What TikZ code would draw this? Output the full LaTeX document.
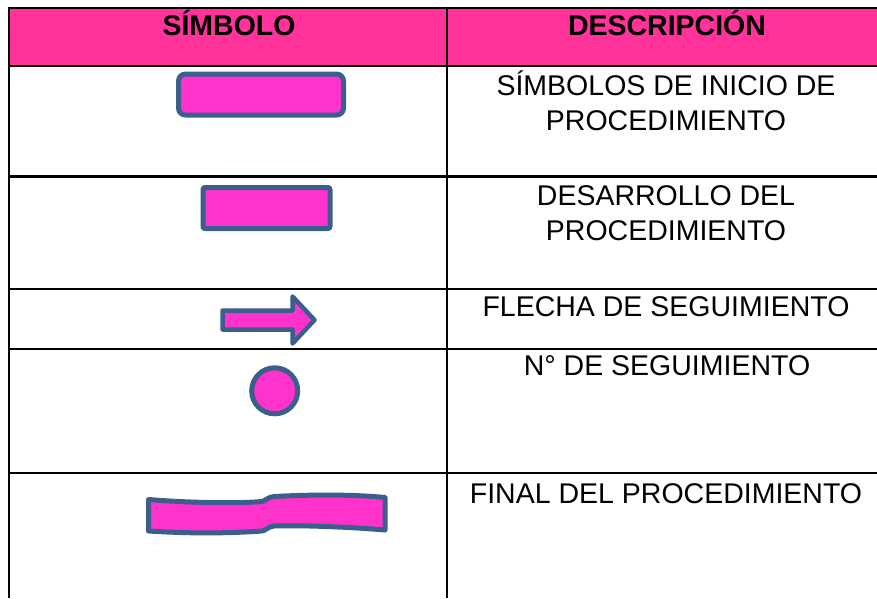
\documentclass[tikz,border=0pt]{standalone}
\usepackage{fontspec}
\setmainfont{Liberation Sans}
\definecolor{hdr}{HTML}{FF3399}
\definecolor{shfill}{HTML}{FF33CC}
\definecolor{shline}{HTML}{3B5E8C}
\tikzset{
  grid/.style={line width=2.5pt, draw=black},
  sym/.style={fill=shfill, draw=shline, line width=5pt, line join=round},
  hdrtxt/.style={anchor=base, inner sep=0pt, font=\fontsize{28.5}{34}\selectfont\bfseries},
  desc/.style={anchor=base, inner sep=0pt, align=center, font=\fontsize{28.5}{35}\selectfont},
}
\begin{document}
\begin{tikzpicture}[x=1pt,y=-1pt]
\useasboundingbox (0,0) rectangle (877,598);
% header background
\fill[hdr] (9,8) rectangle (877,66);
% grid
\draw[grid] (9,8) -- (877,8);
\draw[grid] (9,66) -- (877,66);
\draw[grid] (9,176.5) -- (877,176.5);
\draw[grid] (9,289) -- (877,289);
\draw[grid] (9,349) -- (877,349);
\draw[grid] (9,473) -- (877,473);
\draw[grid] (9,6.75) -- (9,598);
\draw[grid] (447,6.75) -- (447,598);
% header texts
\node[hdrtxt] (h1) at (229,35) {SÍMBOLO};
\node[hdrtxt] (h2) at (667,35) {DESCRIPCIÓN};
% descriptions (multi-line nodes: base = last line)
\node[desc] (d1) at (666,130) {SÍMBOLOS DE INICIO DE\\PROCEDIMIENTO};
\node[desc] (d2) at (666,240) {DESARROLLO DEL\\PROCEDIMIENTO};
\node[desc] (d3) at (666,316) {FLECHA DE SEGUIMIENTO};
\node[desc] (d4) at (667,375) {N° DE SEGUIMIENTO};
\node[desc] (d5) at (666,503) {FINAL DEL PROCEDIMIENTO};
% symbols
\draw[sym, rounded corners=7pt] (178.5,74) rectangle (343.5,115);
\draw[sym, rounded corners=2pt] (203,187.5) rectangle (330,228.5);
\draw[sym, line width=4.5pt] (222.5,310.5) -- (292.5,310.5) -- (292.5,296.5) -- (314.5,320) -- (292.5,343.5) -- (292.5,329.5) -- (222.5,329.5) -- cycle;
\draw[sym] (274.7,390.8) circle (23pt);
\draw[sym] (148.5,499.5) .. controls (190,503) and (240,503.5) .. (262,501.5)
  .. controls (266,500.5) and (268,497) .. (274,496.5)
  .. controls (320,494) and (360,495) .. (385,497.5)
  -- (385,530)
  .. controls (350,527) and (300,525) .. (274,526)
  .. controls (268,526.5) and (266,530.5) .. (262,531)
  .. controls (220,534) and (180,533) .. (148.5,531) -- cycle;
\end{tikzpicture}
\end{document}
